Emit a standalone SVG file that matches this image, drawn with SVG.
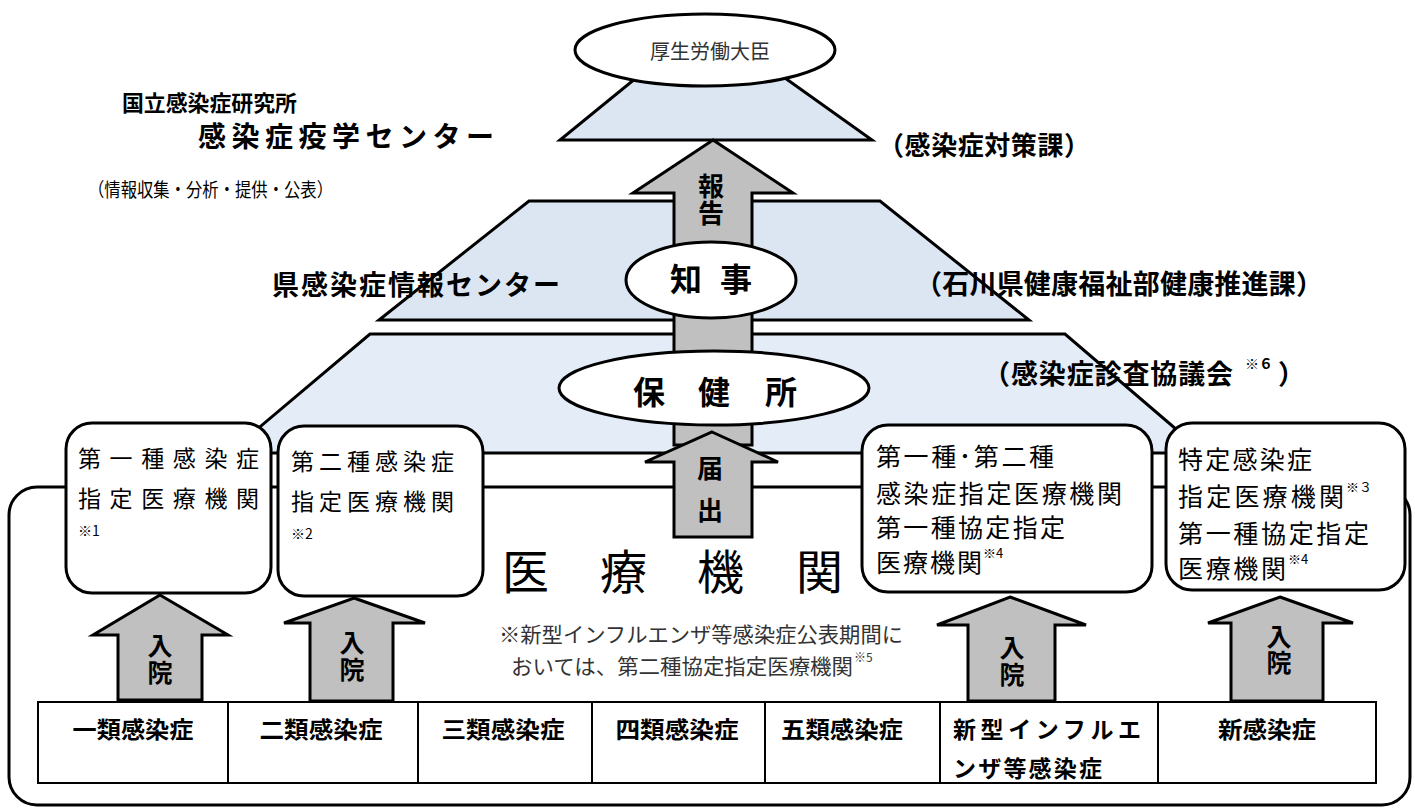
<svg xmlns="http://www.w3.org/2000/svg" width="1415" height="808" viewBox="0 0 1415 808">
<style>
text { font-family: "Noto Sans CJK JP", "Noto Sans CJK SC", sans-serif; dominant-baseline: central; fill: #000; }
.b { font-weight: bold; }
.thin { fill: #333; }
.vert { writing-mode: vertical-rl; text-anchor: middle; font-weight: bold; }
.trap1 { fill: #DCE6F2; stroke: #000; stroke-width: 3; }
.trap3 { fill: #E4ECF7; stroke: #000; stroke-width: 3; }
.node { fill: #fff; stroke: #000; stroke-width: 3; }
.arrow { fill: #C0C0C0; stroke: #000; stroke-width: 3; stroke-linejoin: miter; }
.cell { fill: #fff; stroke: #000; stroke-width: 2; }
.sup { font-size: 13px; }
</style>
<rect width="1415" height="808" fill="#fff"/>

<g id="levels">
  <polygon id="national-level" class="trap1" points="636,78 785,78 872,140 560,140"/>
  <polygon id="prefecture-level" class="trap1" points="529,201 880,201 1029,320 379,320"/>
  <polygon id="healthcenter-level" class="trap3" points="370,334 1065,334 1204,453 229,453"/>
</g>

<g id="medical-institutions">
  <rect class="node" x="9" y="487" width="1401" height="318" rx="28"/>
  <text x="502 600 697 796" y="568" font-size="47">医療機関</text>
</g>

<g id="connectors">
  <g id="arrow-report">
    <polygon class="arrow" points="713,140 793,193 752,193 752,445 674,445 674,193 633,193"/>
    <text class="vert" x="711" y="200" font-size="26" letter-spacing="1">報告</text>
  </g>
  <g id="arrow-notify">
    <polygon class="arrow" points="712,432 778,462 752,462 752,537 674,537 674,462 645,462"/>
    <text class="vert" x="710" y="497" font-size="26" letter-spacing="16">届出</text>
  </g>
  <g id="arrow-admit1">
    <polygon class="arrow" points="160,595 228,635 202,635 202,700 118,700 118,635 93,635"/>
    <text class="vert" x="160" y="660" font-size="25" letter-spacing="2">入院</text>
  </g>
  <g id="arrow-admit2">
    <polygon class="arrow" points="354,598 425,623 393,623 393,701 310,701 310,623 284,623"/>
    <text class="vert" x="352" y="657" font-size="25" letter-spacing="2">入院</text>
  </g>
  <g id="arrow-admit3">
    <polygon class="arrow" points="1010,597 1086,625 1055,625 1055,701 968,701 968,625 937,625"/>
    <text class="vert" x="1012" y="662" font-size="25" letter-spacing="2">入院</text>
  </g>
  <g id="arrow-admit4">
    <polygon class="arrow" points="1280,597 1353,623 1323,623 1323,701 1231,701 1231,623 1208,623"/>
    <text class="vert" x="1279" y="650" font-size="25" letter-spacing="1">入院</text>
  </g>
</g>

<g id="minister">
  <ellipse class="node" cx="705" cy="50" rx="130" ry="36"/>
  <text class="thin" x="710" y="50" font-size="20" text-anchor="middle">厚生労働大臣</text>
</g>

<g id="governor">
  <ellipse class="node" cx="711" cy="280" rx="85" ry="38"/>
  <text class="b" x="686" y="277" font-size="32" text-anchor="middle">知</text>
  <text class="b" x="736" y="277" font-size="32" text-anchor="middle">事</text>
</g>

<g id="health-center">
  <ellipse class="node" cx="714" cy="388" rx="155" ry="37"/>
  <text class="b" x="649" y="390" font-size="32" text-anchor="middle">保</text>
  <text class="b" x="714" y="390" font-size="32" text-anchor="middle">健</text>
  <text class="b" x="781" y="390" font-size="32" text-anchor="middle">所</text>
</g>

<g id="niid">
  <text class="b" x="122" y="101" font-size="22" textLength="175" lengthAdjust="spacingAndGlyphs">国立感染症研究所</text>
  <text class="b" x="198" y="135" font-size="28" textLength="296" lengthAdjust="spacing">感染症疫学センター</text>
  <text x="88" y="188" font-size="19" textLength="245" lengthAdjust="spacingAndGlyphs">（情報収集・分析・提供・公表）</text>
</g>

<g id="mhlw-division">
  <text class="b" x="878" y="143" font-size="26" textLength="212" lengthAdjust="spacing">（感染症対策課）</text>
</g>

<g id="pref-center">
  <text class="b" x="272" y="283" font-size="27" textLength="288" lengthAdjust="spacing">県感染症情報センター</text>
</g>

<g id="pref-division">
  <text class="b" x="915" y="282" font-size="27" textLength="408" lengthAdjust="spacing">（石川県健康福祉部健康推進課）</text>
</g>

<g id="council">
  <text class="b" x="983" y="372" font-size="27" textLength="250" lengthAdjust="spacing">（感染症診査協議会</text>
  <text class="b" x="1245" y="363" font-size="14">※６</text>
  <text class="b" x="1278" y="372" font-size="27">）</text>
</g>

<g id="type1-designated">
  <rect class="node" x="66" y="423" width="205" height="170" rx="26"/>
  <text x="78" y="457" font-size="23" textLength="181" lengthAdjust="spacing">第一種感染症</text>
  <text x="78" y="497" font-size="23" textLength="181" lengthAdjust="spacing">指定医療機関</text>
  <text x="78" y="530" font-size="14">※1</text>
</g>

<g id="type2-designated">
  <rect class="node" x="278" y="426" width="205" height="170" rx="26"/>
  <text x="291" y="460" font-size="23" textLength="163" lengthAdjust="spacing">第二種感染症</text>
  <text x="291" y="500" font-size="23" textLength="163" lengthAdjust="spacing">指定医療機関</text>
  <text x="291" y="533" font-size="14">※2</text>
</g>

<g id="type12-designated">
  <rect class="node" x="862" y="425" width="290" height="167" rx="26"/>
  <text x="876" y="455" font-size="25" textLength="178" lengthAdjust="spacing">第一種･第二種</text>
  <text x="876" y="492" font-size="25" textLength="246" lengthAdjust="spacing">感染症指定医療機関</text>
  <text x="876" y="526" font-size="25" textLength="189" lengthAdjust="spacing">第一種協定指定</text>
  <text x="876" y="561" font-size="25" textLength="106" lengthAdjust="spacing">医療機関</text>
  <text x="983" y="552" class="sup">※4</text>
</g>

<g id="specific-designated">
  <rect class="node" x="1166" y="423" width="239" height="167" rx="26"/>
  <text x="1178" y="458" font-size="25" textLength="134" lengthAdjust="spacing">特定感染症</text>
  <text x="1178" y="495" font-size="25" textLength="166" lengthAdjust="spacing">指定医療機関</text>
  <text x="1346" y="486" class="sup">※３</text>
  <text x="1178" y="532" font-size="25" textLength="191" lengthAdjust="spacing">第一種協定指定</text>
  <text x="1178" y="567" font-size="25" textLength="108" lengthAdjust="spacing">医療機関</text>
  <text x="1288" y="558" class="sup">※4</text>
</g>

<g id="note">
  <text class="thin" x="499" y="633" font-size="21" textLength="404" lengthAdjust="spacingAndGlyphs">※新型インフルエンザ等感染症公表期間に</text>
  <text class="thin" x="511" y="665" font-size="21" textLength="342" lengthAdjust="spacingAndGlyphs">おいては、第二種協定指定医療機関</text>
  <text class="thin" x="854" y="656" font-size="12">※5</text>
</g>

<g id="disease-table">
  <rect class="cell" x="38" y="702" width="1338" height="81"/>
  <line class="cell" x1="228" y1="702" x2="228" y2="783"/>
  <line class="cell" x1="418" y1="702" x2="418" y2="783"/>
  <line class="cell" x1="592" y1="702" x2="592" y2="783"/>
  <line class="cell" x1="765" y1="702" x2="765" y2="783"/>
  <line class="cell" x1="940" y1="702" x2="940" y2="783"/>
  <line class="cell" x1="1158" y1="702" x2="1158" y2="783"/>
  <text class="b" x="133" y="728" font-size="23" text-anchor="middle" textLength="121" lengthAdjust="spacingAndGlyphs">一類感染症</text>
  <text class="b" x="321" y="728" font-size="23" text-anchor="middle" textLength="123" lengthAdjust="spacingAndGlyphs">二類感染症</text>
  <text class="b" x="503" y="728" font-size="23" text-anchor="middle" textLength="123" lengthAdjust="spacingAndGlyphs">三類感染症</text>
  <text class="b" x="677" y="728" font-size="23" text-anchor="middle" textLength="123" lengthAdjust="spacingAndGlyphs">四類感染症</text>
  <text class="b" x="842" y="728" font-size="23" text-anchor="middle" textLength="122" lengthAdjust="spacingAndGlyphs">五類感染症</text>
  <text class="b" x="953" y="728" font-size="23" textLength="188" lengthAdjust="spacing">新型インフルエ</text>
  <text class="b" x="953" y="767" font-size="23" textLength="149" lengthAdjust="spacing">ンザ等感染症</text>
  <text class="b" x="1267" y="728" font-size="23" text-anchor="middle" textLength="98" lengthAdjust="spacingAndGlyphs">新感染症</text>
</g>
</svg>
